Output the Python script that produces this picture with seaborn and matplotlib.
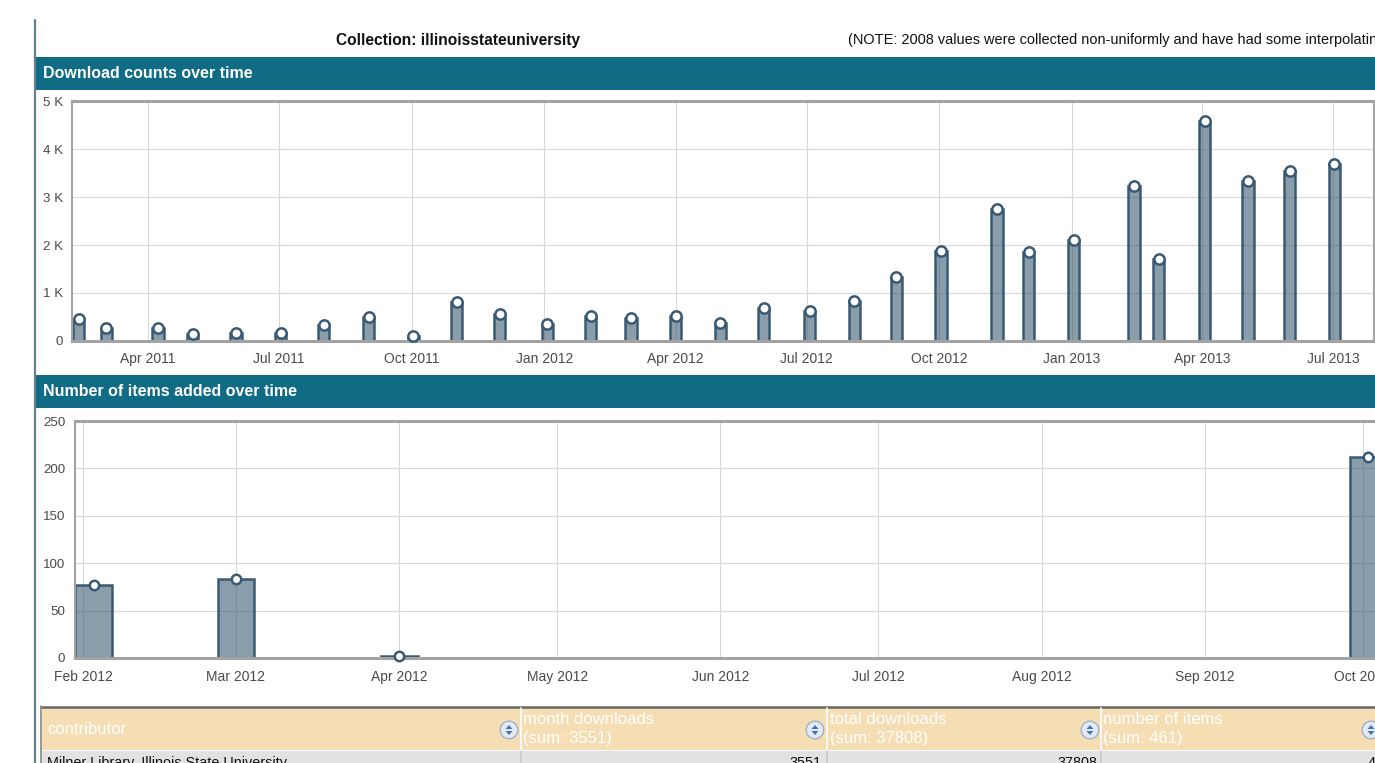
import numpy as np
import pandas as pd
import matplotlib
matplotlib.use("Agg")
import matplotlib.pyplot as plt
import matplotlib.dates as mdates
from matplotlib.patches import Rectangle, Circle, Polygon
from matplotlib.lines import Line2D
from matplotlib.ticker import FixedLocator, FixedFormatter
import seaborn as sns

# ---------------- data ----------------
collection_name = "illinoisstateuniversity"
note_text = "(NOTE: 2008 values were collected non-uniformly and have had some interpolating applied)"

download_dates = ["2011-02-12", "2011-03-03", "2011-04-08", "2011-05-02", "2011-06-01",
                  "2011-07-02", "2011-08-01", "2011-09-01", "2011-10-02", "2011-11-01",
                  "2011-12-01", "2012-01-03", "2012-02-02", "2012-03-01", "2012-04-01",
                  "2012-05-02", "2012-06-01", "2012-07-03", "2012-08-03", "2012-09-01",
                  "2012-10-02", "2012-11-10", "2012-12-02", "2013-01-02", "2013-02-13",
                  "2013-03-02", "2013-04-03", "2013-05-03", "2013-06-01", "2013-07-02"]
download_counts = [455, 265, 280, 150, 170, 170, 330, 510, 110, 810,
                   570, 350, 530, 480, 530, 380, 690, 625, 830, 1330,
                   1880, 2740, 1860, 2095, 3235, 1700, 4590, 3335, 3550, 3685]
download_yticks = [0, 1000, 2000, 3000, 4000, 5000]
download_yticklabels = ["0", "1 K", "2 K", "3 K", "4 K", "5 K"]

items_dates = ["2012-02-03", "2012-03-01", "2012-04-01", "2012-10-02"]
items_counts = [77, 83, 2, 212]
items_yticks = [0, 50, 100, 150, 200, 250]
items_yticklabels = ["0", "50", "100", "150", "200", "250"]

table_columns = ["contributor", "month downloads", "total downloads", "number of items"]
table_sums = ["", "(sum: 3551)", "(sum: 37808)", "(sum: 461)"]
table_row = ["Milner Library, Illinois State University", "3551", "37808", "461"]

# ---------------- style ----------------
sns.set_theme(style="white")
plt.rcParams["font.family"] = ["Liberation Sans", "DejaVu Sans"]

W, H = 1375, 763
fig = plt.figure(figsize=(W / 100, H / 100), dpi=100)
fig.patch.set_facecolor("white")

TEAL = "#106b84"
BAR_EDGE = "#3a5a74"
BAR_FACE = (0.204, 0.337, 0.435, 0.58)
GRID = "#d9d9d9"
SPINE = "#a3a3a3"
TICK = "#4a4a4a"


def fx(x):
    return x / W


def fy(y):
    return 1 - y / H


def axbox(x0, y0, x1, y1):
    return [fx(x0), fy(y1), (x1 - x0) / W, (y1 - y0) / H]


# left page border
fig.add_artist(Line2D([fx(35), fx(35)], [fy(20), fy(763)], color="#5f8190", lw=1.6))

# title + note
fig.text(fx(458), fy(40), f"Collection: {collection_name}", ha="center", va="center",
         fontsize=11.2, fontweight="bold", color="#111")
fig.text(fx(848), fy(40), note_text, ha="left", va="center", fontsize=10.45, color="#111")


def header(y0, y1, label):
    fig.add_artist(Rectangle((fx(36), fy(y1)), (1375 - 36) / W, (y1 - y0) / H,
                             transform=fig.transFigure, facecolor=TEAL, edgecolor="none"))
    fig.text(fx(43), fy((y0 + y1) / 2), label, ha="left", va="center",
             fontsize=11.5, fontweight="bold", color="white")


header(57, 90, "Download counts over time")
header(375, 408, "Number of items added over time")


def style_axes(ax, yticks, yticklabels, right_spine, xpad, ypad):
    ax.set_xlabel("")
    ax.set_ylabel("")
    ax.yaxis.set_major_locator(FixedLocator(yticks))
    ax.yaxis.set_major_formatter(FixedFormatter(yticklabels))
    ax.set_ylim(yticks[0], yticks[-1])
    ax.grid(True, color=GRID, lw=0.8)
    ax.set_axisbelow(True)
    ax.tick_params(axis="both", length=0, colors=TICK)
    ax.tick_params(axis="x", pad=xpad, labelsize=10.0)
    ax.tick_params(axis="y", pad=ypad, labelsize=9.6)
    for side in ["top", "bottom"]:
        ax.spines[side].set_color(SPINE)
        ax.spines[side].set_linewidth(2.2)
    ax.spines["left"].set_color(SPINE)
    ax.spines["left"].set_linewidth(1.5)
    ax.spines["right"].set_visible(right_spine)
    ax.spines["right"].set_color(SPINE)
    ax.spines["right"].set_linewidth(1.5)
    for p in ax.patches:
        p.set_facecolor(BAR_FACE)
        p.set_edgecolor(BAR_EDGE)
        p.set_linewidth(1.8)


def bar_chart(ax, dates, values, bar_days, marker_size):
    xnum = mdates.date2num(pd.to_datetime(dates).to_pydatetime())
    min_gap = np.min(np.diff(np.unique(xnum)))
    sns.barplot(x=xnum, y=values, ax=ax, native_scale=True, orient="x",
                width=bar_days / min_gap, errorbar=None, color=BAR_EDGE,
                linewidth=1.8, edgecolor=BAR_EDGE)
    sns.scatterplot(x=xnum, y=values, ax=ax, s=marker_size, color="white", edgecolor=BAR_EDGE,
                    linewidth=1.8, zorder=5, legend=False, clip_on=False)


# ---------------- chart 1: downloads ----------------
ax1 = fig.add_axes(axbox(72, 101, 1374, 341))
bar_chart(ax1, download_dates, download_counts, 7.8, 55)
apr1 = mdates.date2num(pd.Timestamp("2011-04-01").to_pydatetime())
ppd1 = 1.4416
ax1.set_xlim(apr1 - 76 / ppd1, apr1 + 1226 / ppd1)
ax1.xaxis.set_major_locator(mdates.MonthLocator(bymonth=[1, 4, 7, 10]))
ax1.xaxis.set_major_formatter(mdates.DateFormatter("%b %Y"))
style_axes(ax1, download_yticks, download_yticklabels, True, 8.2, 6.5)

# ---------------- chart 2: items ----------------
ax2 = fig.add_axes(axbox(75, 421, 1400, 658))
bar_chart(ax2, items_dates, items_counts, 7, 46)
feb1 = mdates.date2num(pd.Timestamp("2012-02-01").to_pydatetime())
ppd2 = 5.265
ax2.set_xlim(feb1 - 8.3 / ppd2, feb1 + (1400 - 83.3) / ppd2)
ax2.xaxis.set_major_locator(mdates.MonthLocator())
ax2.xaxis.set_major_formatter(mdates.DateFormatter("%b %Y"))
style_axes(ax2, items_yticks, items_yticklabels, False, 8.6, 7)

# ---------------- table ----------------
fig.add_artist(Rectangle((fx(42), fy(750)), (1375 - 42) / W, (750 - 707) / H,
                         transform=fig.transFigure, facecolor="#f5deb3", edgecolor="none"))
fig.add_artist(Rectangle((fx(42), fy(763)), (1375 - 42) / W, (763 - 751) / H,
                         transform=fig.transFigure, facecolor="#e2e2e2", edgecolor="none"))
fig.add_artist(Line2D([fx(41), fx(1375)], [fy(706.5), fy(706.5)], color="#666", lw=1.8))
fig.add_artist(Line2D([fx(41), fx(41)], [fy(706), fy(763)], color="#888", lw=1.2))

col_left = [47, 523, 830, 1103]
col_sep = [521, 827, 1101]
icon_x = [509, 815, 1090, 1371]
value_right = [None, 822, 1097, 1392]

for xs in col_sep:
    fig.add_artist(Line2D([fx(xs), fx(xs)], [fy(708), fy(750)], color="white", lw=1.2))
    fig.add_artist(Line2D([fx(xs), fx(xs)], [fy(751), fy(763)], color="#c9c9c9", lw=1.2))

for i, name in enumerate(table_columns):
    if table_sums[i]:
        fig.text(fx(col_left[i]), fy(720), name, ha="left", va="center",
                 fontsize=12.0, color="white")
        fig.text(fx(col_left[i]), fy(739), table_sums[i], ha="left", va="center",
                 fontsize=12.0, color="white")
    else:
        fig.text(fx(col_left[i]), fy(730), name, ha="left", va="center",
                 fontsize=12.0, color="white")

for xi in icon_x:
    cx, cy = xi / 100, (H - 730) / 100
    fig.add_artist(Circle((cx, cy), 0.088, transform=fig.dpi_scale_trans,
                          facecolor="#e3eaf3", edgecolor="#9fb2c9", lw=1.0))
    fig.add_artist(Polygon([(cx - 0.035, cy + 0.01), (cx + 0.035, cy + 0.01), (cx, cy + 0.05)],
                           closed=True, transform=fig.dpi_scale_trans, facecolor="#4574b0",
                           edgecolor="none"))
    fig.add_artist(Polygon([(cx - 0.035, cy - 0.01), (cx + 0.035, cy - 0.01), (cx, cy - 0.05)],
                           closed=True, transform=fig.dpi_scale_trans, facecolor="#4574b0",
                           edgecolor="none"))

fig.text(fx(47), fy(767), table_row[0], ha="left", va="baseline", fontsize=10.4, color="#111")
for i in range(1, 4):
    fig.text(fx(value_right[i]), fy(767), table_row[i], ha="right", va="baseline",
             fontsize=10.4, color="#111")

fig.savefig("out.png", dpi=100)
